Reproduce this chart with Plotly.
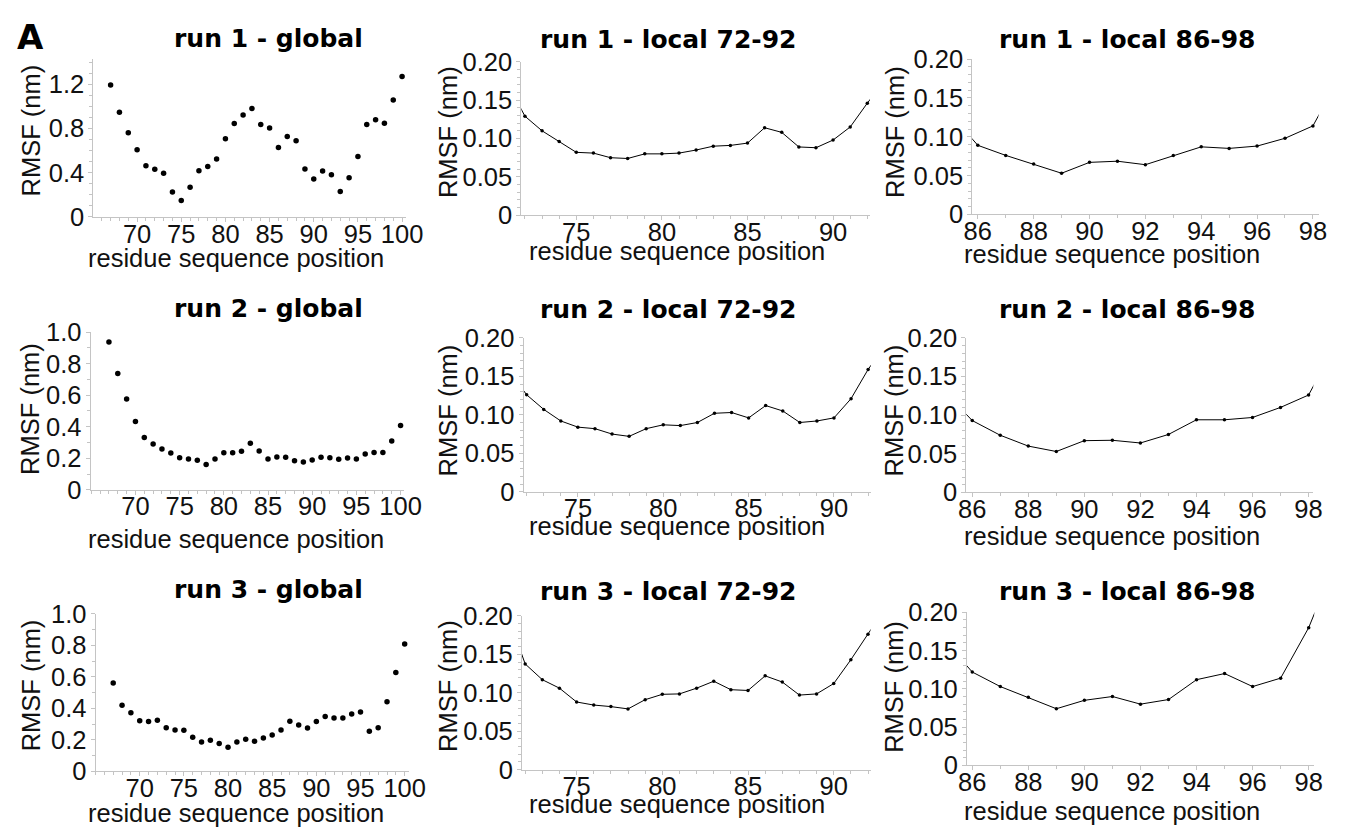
import plotly.graph_objects as go

# ---- data -----------------------------------------------------------------
residues_global = list(range(67, 101))
run1_global = [1.194, 0.947, 0.763, 0.609, 0.463, 0.431, 0.396, 0.227, 0.149, 0.268,
               0.419, 0.457, 0.524, 0.708, 0.845, 0.923, 0.982, 0.836, 0.804, 0.629,
               0.728, 0.690, 0.434, 0.344, 0.417, 0.382, 0.230, 0.355, 0.548, 0.836,
               0.880, 0.848, 1.057, 1.270]
run2_global = [0.937, 0.737, 0.576, 0.433, 0.331, 0.290, 0.259, 0.233, 0.204, 0.196,
               0.188, 0.161, 0.196, 0.235, 0.235, 0.245, 0.296, 0.247, 0.196, 0.208,
               0.206, 0.184, 0.176, 0.190, 0.206, 0.204, 0.194, 0.202, 0.196, 0.227,
               0.237, 0.237, 0.310, 0.408]
run3_global = [0.561, 0.420, 0.371, 0.320, 0.316, 0.324, 0.277, 0.262, 0.260, 0.215,
               0.186, 0.197, 0.176, 0.152, 0.186, 0.203, 0.191, 0.211, 0.230, 0.262,
               0.318, 0.293, 0.275, 0.316, 0.348, 0.338, 0.338, 0.363, 0.377, 0.254,
               0.277, 0.441, 0.627, 0.809]

residues_72_92 = list(range(71, 94))
run1_local_72_92 = [0.171, 0.129, 0.110, 0.096, 0.082, 0.081, 0.075, 0.074, 0.080, 0.080,
                    0.081, 0.085, 0.090, 0.091, 0.094, 0.114, 0.108, 0.089, 0.088, 0.098,
                    0.115, 0.146, 0.175]
run2_local_72_92 = [0.156, 0.126, 0.107, 0.092, 0.084, 0.082, 0.075, 0.072, 0.082, 0.087,
                    0.086, 0.090, 0.102, 0.103, 0.096, 0.112, 0.105, 0.090, 0.092, 0.096,
                    0.121, 0.159, 0.190]
run3_local_72_92 = [0.200, 0.1375, 0.117, 0.106, 0.088, 0.084, 0.082, 0.079, 0.091, 0.098,
                    0.0985, 0.106, 0.115, 0.104, 0.103, 0.122, 0.114, 0.097, 0.0985, 0.112,
                    0.143, 0.176, 0.210]

residues_86_98 = list(range(85, 100))
run1_local_86_98 = [0.130, 0.089, 0.076, 0.065, 0.053, 0.067, 0.0685, 0.064, 0.076, 0.087,
                    0.085, 0.088, 0.098, 0.114, 0.180]
run2_local_86_98 = [0.131, 0.093, 0.074, 0.060, 0.053, 0.067, 0.0675, 0.064, 0.075, 0.094,
                    0.094, 0.097, 0.110, 0.126, 0.193]
run3_local_86_98 = [0.164, 0.122, 0.103, 0.089, 0.074, 0.085, 0.090, 0.080, 0.086, 0.112,
                    0.120, 0.103, 0.114, 0.180, 0.270]

titles = [["run 1 - global", "run 1 - local 72-92", "run 1 - local 86-98"],
          ["run 2 - global", "run 2 - local 72-92", "run 2 - local 86-98"],
          ["run 3 - global", "run 3 - local 72-92", "run 3 - local 86-98"]]
x_title = "residue sequence position"
y_title = "RMSF (nm)"

global_xticks = [70, 75, 80, 85, 90, 95, 100]
local_a_xticks = [75, 80, 85, 90]
local_b_xticks = [86, 88, 90, 92, 94, 96, 98]
global_yticks_r1 = [0, 0.4, 0.8, 1.2]
global_ytext_r1 = ["0", "0.4", "0.8", "1.2"]
global_yticks = [0, 0.2, 0.4, 0.6, 0.8, 1.0]
global_ytext = ["0", "0.2", "0.4", "0.6", "0.8", "1.0"]
local_yticks = [0, 0.05, 0.10, 0.15, 0.20]
local_ytext = ["0", "0.05", "0.10", "0.15", "0.20"]

# ---- layout geometry (pixels) ----------------------------------------------
W, H = 1362, 839
# plot boxes: (left, right, top, bottom)
boxes = [
    [(86, 405, 47, 210), (522.7, 878.3, 49.3, 208.3), (982.7, 1336, 46.7, 207.3)],
    [(83.3, 403, 329, 492.3), (525, 879.3, 335, 494.3), (976.7, 1330.7, 335, 495)],
    [(88.3, 408, 620.7, 783.3), (523.3, 879, 622.7, 781.7), (977.3, 1331.7, 619, 777.3)],
]
xranges = [
    [(65.04, 100.44), (71.79, 92.15), (85.8, 98.2)],
    [(64.93, 100.39), (71.82, 92.16), (85.79, 98.17)],
    [(65.0, 100.48), (71.81, 92.15), (85.81, 98.2)],
]
yranges = [
    [(0, 1.425), (0, 0.2), (0, 0.2)],
    [(0, 1.0), (0, 0.2), (0, 0.2)],
    [(0, 1.0), (0, 0.2), (0, 0.2)],
]
title_pos = [[(265, 25), (672, 26), (1141, 26)],
             [(265, 305), (672, 306), (1141, 306)],
             [(265, 595), (672, 597), (1141, 597)]]
xtitle_pos = [[(232, 252), (682, 245), (1125, 248)],
              [(232, 543), (682, 530), (1125, 540)],
              [(232, 827), (682, 817), (1125, 825)]]
ytitle_pos = [[(22, 121), (448, 122), (904, 122)],
              [(22, 409), (448, 410), (903, 410)],
              [(22, 695), (448, 695), (903, 696)]]

series = [
    [(residues_global, run1_global), (residues_72_92, run1_local_72_92), (residues_86_98, run1_local_86_98)],
    [(residues_global, run2_global), (residues_72_92, run2_local_72_92), (residues_86_98, run2_local_86_98)],
    [(residues_global, run3_global), (residues_72_92, run3_local_72_92), (residues_86_98, run3_local_86_98)],
]

TICK_FONT = dict(family="Liberation Sans, Arial, sans-serif", size=25.5, color="#111111")
AXIS_GRAY = "#c4c4c4"

fig = go.Figure()
annotations = []

for r in range(3):
    for c in range(3):
        k = r * 3 + c + 1
        xa = "x" if k == 1 else f"x{k}"
        ya = "y" if k == 1 else f"y{k}"
        left, right, top, bottom = boxes[r][c]
        xs, ys = series[r][c]

        if c == 0:
            fig.add_trace(go.Scatter(
                x=xs, y=ys, mode="markers", xaxis=xa, yaxis=ya,
                marker=dict(color="black", size=5.5), showlegend=False,
                hoverinfo="x+y"))
        else:
            fig.add_trace(go.Scatter(
                x=xs, y=ys, mode="lines+markers", xaxis=xa, yaxis=ya,
                line=dict(color="black", width=1),
                marker=dict(color="black", size=3.5), showlegend=False,
                hoverinfo="x+y"))

        if c == 0:
            xt = global_xticks
            if r == 0:
                yt, ytt, ymin = global_yticks_r1, global_ytext_r1, 0.1
            else:
                yt, ytt, ymin = global_yticks, global_ytext, 0.1
        elif c == 1:
            xt, yt, ytt, ymin = local_a_xticks, local_yticks, local_ytext, 0.01
        else:
            xt, yt, ytt, ymin = local_b_xticks, local_yticks, local_ytext, 0.01

        axis_common = dict(
            showline=True, linecolor=AXIS_GRAY, linewidth=1,
            ticks="outside", ticklen=4, tickwidth=1, tickcolor=AXIS_GRAY,
            showgrid=False, zeroline=False, tickfont=TICK_FONT,
        )
        fig.layout[xa.replace("x", "xaxis")] = dict(
            axis_common,
            domain=[left / W, right / W], range=list(xranges[r][c]),
            anchor=ya, tickmode="array", tickvals=xt,
            ticktext=[str(v) for v in xt], ticklabelstandoff=-10,
            minor=dict(ticks="outside", ticklen=3, tickcolor=AXIS_GRAY,
                       tickmode="linear", tick0=0, dtick=1),
        )
        fig.layout[ya.replace("y", "yaxis")] = dict(
            axis_common,
            domain=[1 - bottom / H, 1 - top / H], range=list(yranges[r][c]),
            anchor=xa, tickmode="array", tickvals=yt, ticktext=ytt,
            ticklabelstandoff=-1,
            minor=dict(ticks="outside", ticklen=3, tickcolor=AXIS_GRAY,
                       tickmode="linear", tick0=0, dtick=ymin),
        )

        tx, ty = title_pos[r][c]
        annotations.append(dict(
            text=titles[r][c], x=tx / W, y=1 - ty / H, xref="paper", yref="paper",
            xanchor="center", yanchor="middle", showarrow=False,
            font=dict(family="DejaVu Sans", size=25, color="black", weight="bold")))
        ax_x, ax_y = xtitle_pos[r][c]
        annotations.append(dict(
            text=x_title, x=ax_x / W, y=1 - ax_y / H, xref="paper", yref="paper",
            xanchor="center", yanchor="middle", showarrow=False,
            font=dict(family="Liberation Sans, Arial, sans-serif", size=25.5, color="#111111")))
        yx, yy = ytitle_pos[r][c]
        annotations.append(dict(
            text=y_title, x=yx / W, y=1 - yy / H, xref="paper", yref="paper",
            xanchor="center", yanchor="middle", textangle=-90, showarrow=False,
            font=dict(family="Liberation Sans, Arial, sans-serif", size=25.5, color="#111111")))

# panel letter
annotations.append(dict(
    text="A", x=21.7 / W, y=1 - 24 / H, xref="paper", yref="paper",
    xanchor="center", yanchor="middle", showarrow=False,
    font=dict(family="DejaVu Sans", size=34, color="black", weight="bold")))

fig.update_layout(
    width=W, height=H, autosize=False,
    margin=dict(l=0, r=0, t=0, b=0),
    paper_bgcolor="white", plot_bgcolor="white",
    annotations=annotations,
    showlegend=False,
)

fig.write_html("out.html")
